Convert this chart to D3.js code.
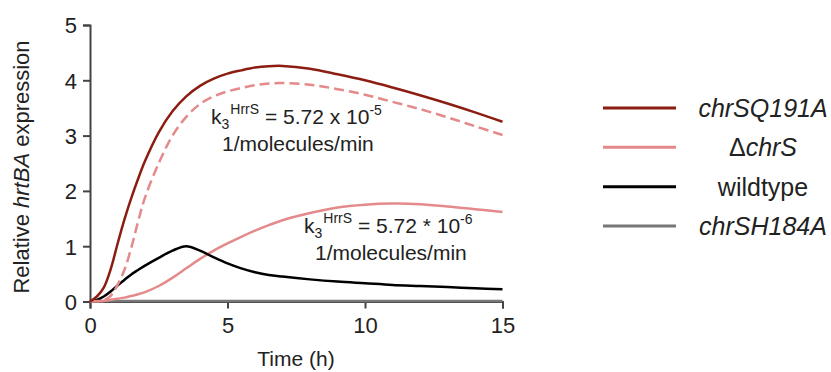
<!DOCTYPE html>
<html>
<head>
<meta charset="utf-8">
<script src="https://cdn.jsdelivr.net/npm/d3@7"></script>
<style>
  body { margin: 0; background: #fff; }
  text { font-family: "Liberation Sans", Arial, sans-serif; fill: #222; }
</style>
</head>
<body>
<div id="chart"></div>
<script>
const width = 831;
const height = 372;

// time points (h)
const timePoints = [0, 0.25, 0.5, 0.75, 1, 1.25, 1.5, 1.75, 2, 2.5, 3, 3.5, 4, 4.5, 5, 5.5, 6, 6.5, 7, 8, 9, 10, 11, 12, 13, 14, 15];

// series values, one per time point
const chrSQ191A = [0, 0.09, 0.25, 0.58, 1.04, 1.48, 1.87, 2.22, 2.54, 3.06, 3.44, 3.71, 3.9, 4.03, 4.12, 4.18, 4.23, 4.255, 4.26, 4.21, 4.11, 4.0, 3.87, 3.73, 3.58, 3.42, 3.25];
const deltaChrSHigh = [0, 0.01, 0.02, 0.1, 0.3, 0.57, 0.97, 1.45, 1.88, 2.5, 3.0, 3.34, 3.57, 3.71, 3.8, 3.86, 3.91, 3.94, 3.95, 3.92, 3.84, 3.74, 3.61, 3.48, 3.33, 3.17, 3.01];
const deltaChrS = [0, 0.005, 0.01, 0.03, 0.05, 0.07, 0.1, 0.13, 0.17, 0.28, 0.43, 0.6, 0.77, 0.92, 1.05, 1.17, 1.28, 1.38, 1.47, 1.6, 1.7, 1.75, 1.77, 1.76, 1.72, 1.67, 1.62];
const wildtype = [0, 0.03, 0.09, 0.18, 0.29, 0.39, 0.49, 0.57, 0.65, 0.79, 0.92, 1.0, 0.92, 0.8, 0.69, 0.6, 0.53, 0.48, 0.45, 0.4, 0.36, 0.33, 0.3, 0.28, 0.26, 0.24, 0.22];
const chrSH184A = [0, 0.01, 0.01, 0.01, 0.01, 0.01, 0.01, 0.01, 0.01, 0.01, 0.01, 0.01, 0.01, 0.01, 0.01, 0.01, 0.01, 0.01, 0.01, 0.01, 0.01, 0.01, 0.01, 0.01, 0.01, 0.01, 0.01];

const xTicks = [0, 5, 10, 15];
const yTicks = [0, 1, 2, 3, 4, 5];

const legendLabels = ['chrSQ191A', '\u0394chrS', 'wildtype', 'chrSH184A'];
const legendColors = ['#8c1d12', '#e48a8b', '#000000', '#777777'];

const svg = d3.select('#chart')
  .append('svg')
  .attr('width', width)
  .attr('height', height);

const x = d3.scaleLinear().domain([0, 15]).range([90, 502.5]);
const y = d3.scaleLinear().domain([0, 5]).range([301.5, 25]);

// axes
const xAxis = svg.append('g')
  .attr('transform', `translate(0, ${y(0)})`)
  .call(d3.axisBottom(x).tickValues(xTicks).tickFormat(d3.format('d')).tickSize(7).tickPadding(9));
const yAxis = svg.append('g')
  .attr('transform', `translate(${x(0)}, 0)`)
  .call(d3.axisLeft(y).tickValues(yTicks).tickFormat(d3.format('d')).tickSize(7).tickPadding(6));

[xAxis, yAxis].forEach(ax => {
  ax.select('.domain').attr('stroke', '#444').attr('stroke-width', 2);
  ax.selectAll('.tick line').attr('stroke', '#444').attr('stroke-width', 2);
  ax.selectAll('.tick text').attr('font-size', 22).attr('fill', '#222')
    .style('font-family', '"Liberation Sans", Arial, sans-serif');
});
yAxis.selectAll('.tick text').attr('dy', '0.36em');

// curves
const line = d3.line()
  .x((d, i) => x(timePoints[i]))
  .y(d => y(d))
  .curve(d3.curveCatmullRom.alpha(0.5));

const series = [
  { values: chrSH184A, color: '#777777', dash: null },
  { values: deltaChrS, color: '#e48a8b', dash: null },
  { values: wildtype, color: '#000000', dash: null },
  { values: deltaChrSHigh, color: '#e48a8b', dash: '10,5' },
  { values: chrSQ191A, color: '#8c1d12', dash: null }
];

series.forEach(s => {
  svg.append('path')
    .datum(s.values)
    .attr('fill', 'none')
    .attr('stroke', s.color)
    .attr('stroke-width', 2.5)
    .attr('stroke-dasharray', s.dash)
    .attr('d', line);
});

// annotations
function annotate(xPos, yPos, op, exp) {
  const t = svg.append('text')
    .attr('x', xPos)
    .attr('y', yPos)
    .attr('font-size', 21);
  t.append('tspan').text('k');
  t.append('tspan').attr('font-size', 14).attr('dy', 5).text('3');
  t.append('tspan').attr('font-size', 14).attr('dy', -15).attr('dx', 1).text('HrrS');
  t.append('tspan').attr('dy', 10).text(` = 5.72 ${op} 10`);
  t.append('tspan').attr('font-size', 14).attr('dy', -9).text(exp);
  svg.append('text')
    .attr('x', xPos + 11)
    .attr('y', yPos + 27)
    .attr('font-size', 21)
    .text('1/molecules/min');
}
annotate(211, 124, 'x', '-5');
annotate(304, 233, '*', '-6');

// axis titles
const yTitle = svg.append('text')
  .attr('transform', `translate(29, 167) rotate(-90)`)
  .attr('text-anchor', 'middle')
  .attr('font-size', 22);
yTitle.append('tspan').text('Relative ');
yTitle.append('tspan').attr('font-style', 'italic').text('hrtBA');
yTitle.append('tspan').text(' expression');

svg.append('text')
  .attr('x', 296)
  .attr('y', 366)
  .attr('text-anchor', 'middle')
  .attr('font-size', 21)
  .text('Time (h)');

// legend
const legendY = d3.scalePoint().domain(legendLabels).range([108, 226]);
const legend = svg.append('g');
legendLabels.forEach((label, i) => {
  legend.append('line')
    .attr('x1', 603).attr('x2', 676)
    .attr('y1', legendY(label)).attr('y2', legendY(label))
    .attr('stroke', legendColors[i])
    .attr('stroke-width', 3);
  const t = legend.append('text')
    .attr('x', 763)
    .attr('y', legendY(label))
    .attr('dy', '0.36em')
    .attr('text-anchor', 'middle')
    .attr('font-size', 25);
  if (label === 'wildtype') {
    t.text(label);
  } else if (label.startsWith('\u0394')) {
    t.append('tspan').text('\u0394');
    t.append('tspan').attr('font-style', 'italic').text(label.slice(1));
  } else {
    t.attr('font-style', 'italic').text(label);
  }
});
</script>
</body>
</html>
